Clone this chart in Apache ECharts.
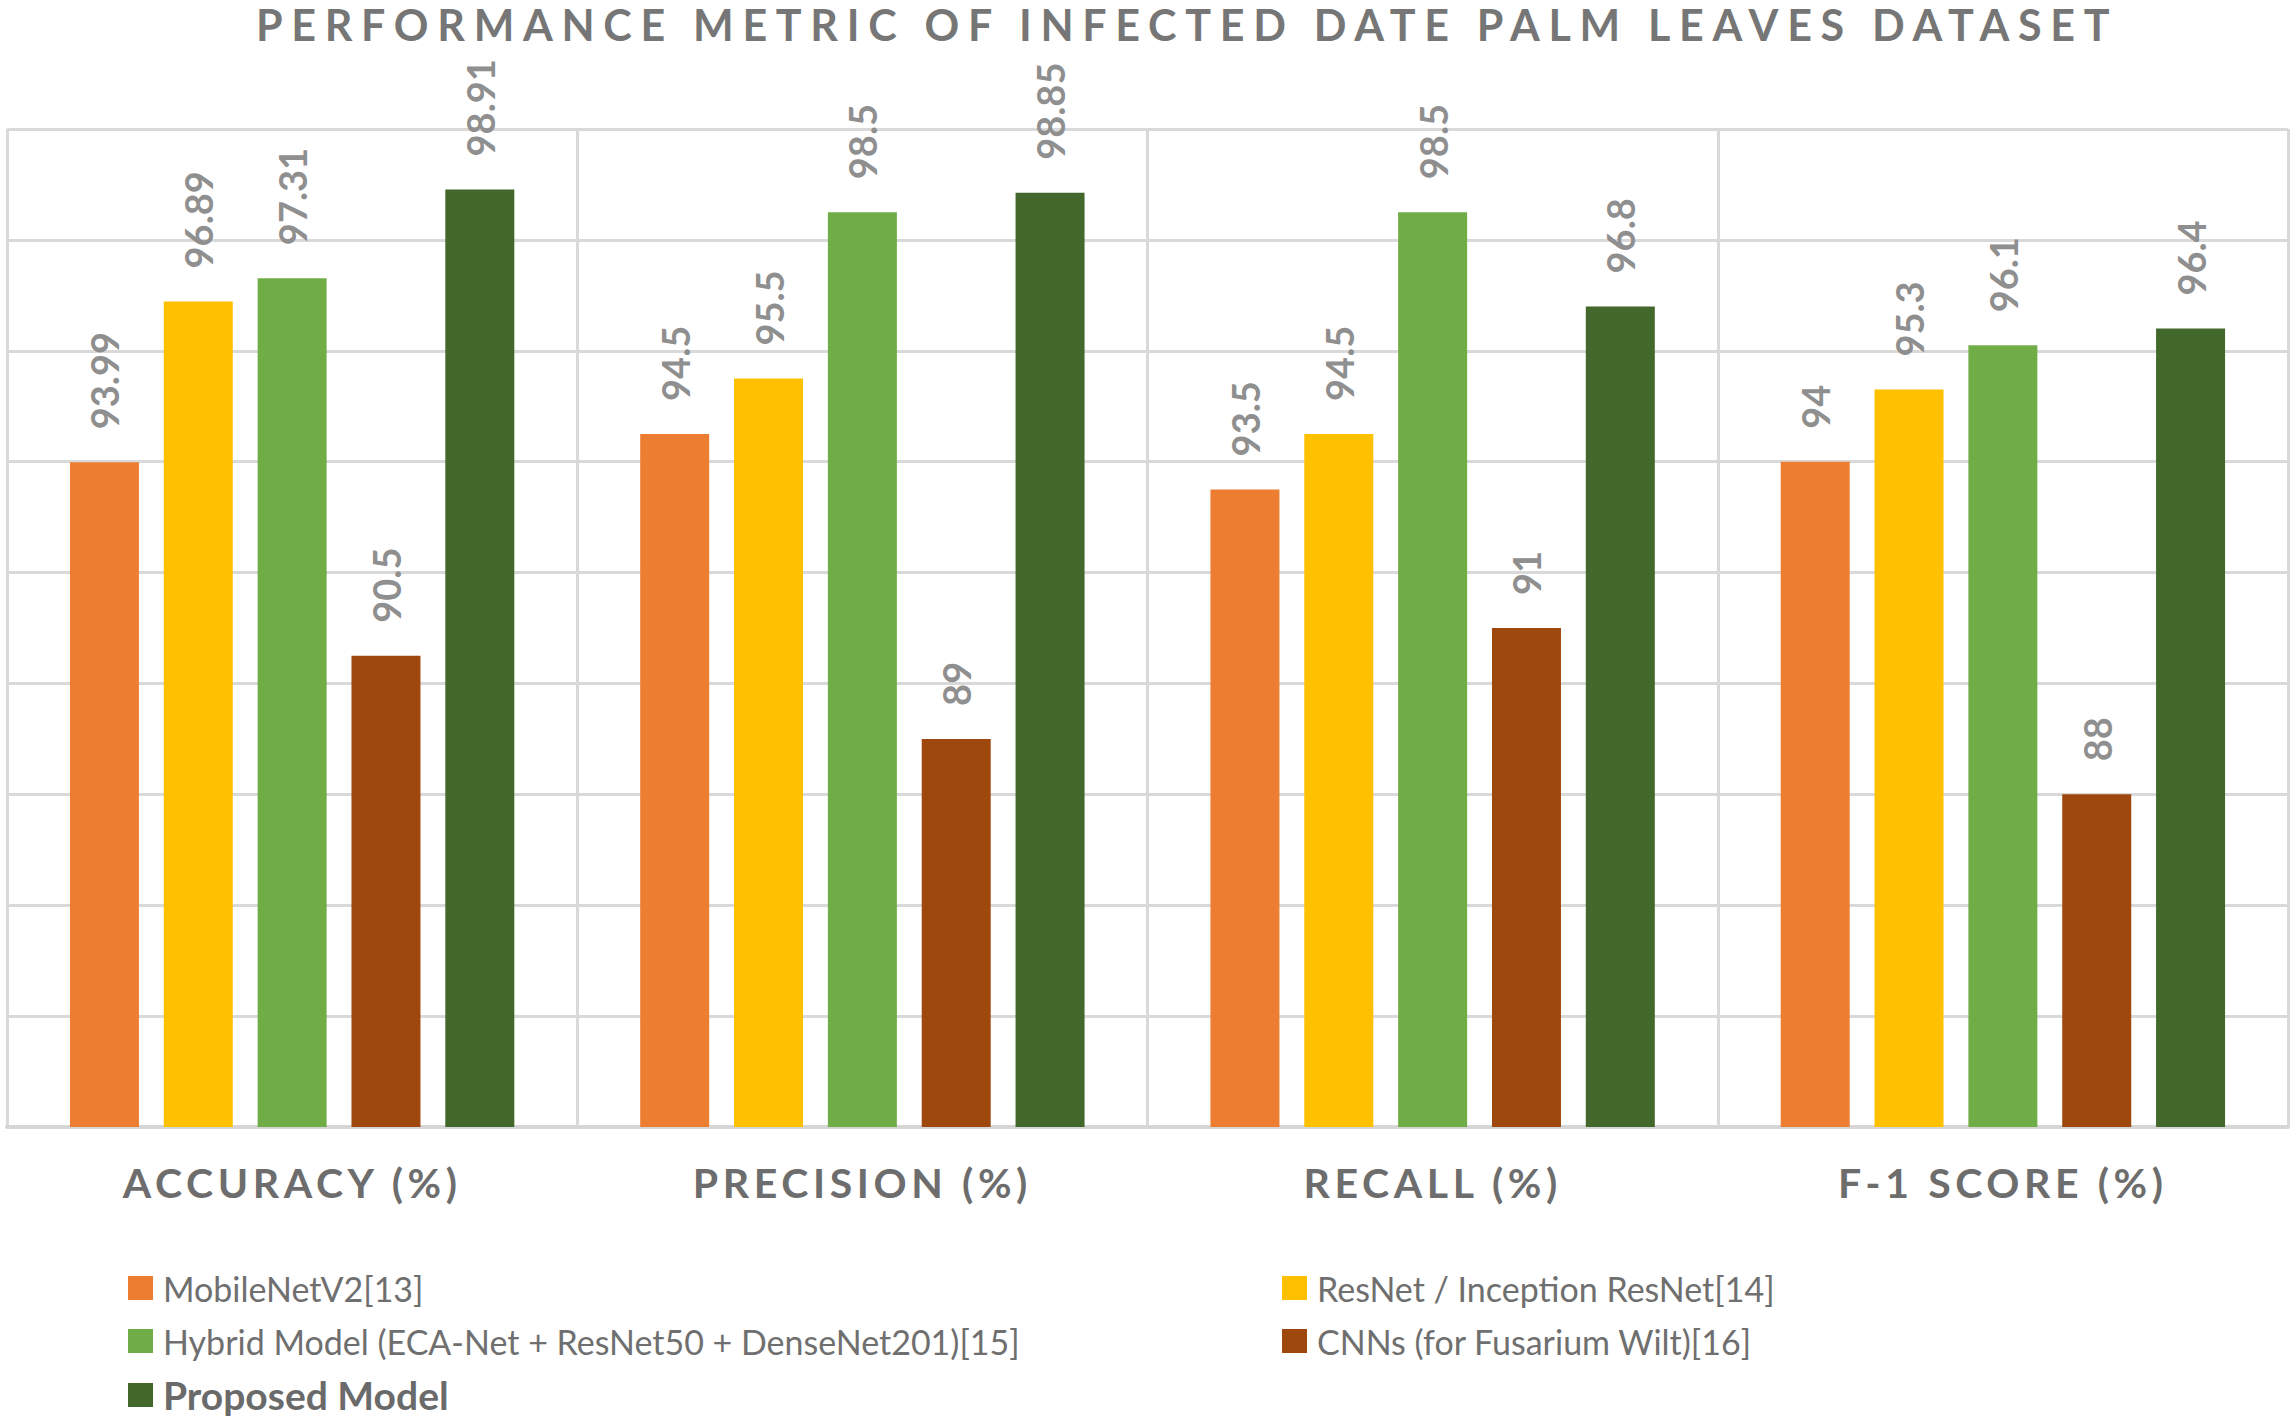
<!DOCTYPE html>
<html>
<head>
<meta charset="utf-8">
<script src="https://cdn.jsdelivr.net/npm/echarts@6/dist/echarts.min.js"></script>
<style>
  html, body { margin: 0; padding: 0; background: #fff; }
  #chart { width: 2296px; height: 1421px; }
  text[style*="43px"] { letter-spacing: 8.7px; }
  text[style*="41px"] { letter-spacing: 4.6px; }
</style>
</head>
<body>
<div id="chart"></div>
<script>
const titleText = 'PERFORMANCE METRIC OF INFECTED DATE PALM LEAVES DATASET';
const categories = ['ACCURACY (%)', 'PRECISION (%)', 'RECALL (%)', 'F-1 SCORE (%)'];
const seriesNames = [
  'MobileNetV2[13]',
  'ResNet / Inception ResNet[14]',
  'Hybrid Model (ECA-Net + ResNet50 + DenseNet201)[15]',
  'CNNs (for Fusarium Wilt)[16]',
  'Proposed Model'
];
const mobileNetV2 = [93.99, 94.5, 93.5, 94];
const resNetInception = [96.89, 95.5, 94.5, 95.3];
const hybridModel = [97.31, 98.5, 98.5, 96.1];
const cnnsFusarium = [90.5, 89, 91, 88];
const proposedModel = [98.91, 98.85, 96.8, 96.4];
const seriesValues = [mobileNetV2, resNetInception, hybridModel, cnnsFusarium, proposedModel];
const colors = ['#ED7D31', '#FFC000', '#70AD47', '#9E480E', '#43682B'];

const chart = echarts.init(document.getElementById('chart'), null, { renderer: 'svg' });

const FONT = 'Lato, "Open Sans", "Liberation Sans", sans-serif';

const legendBase = {
  orient: 'vertical',
  icon: 'rect',
  padding: 0,
  itemWidth: 25,
  itemHeight: 24,
  itemGap: 13,
  textStyle: {
    fontFamily: FONT,
    fontSize: 34,
    color: '#6f6f6f',
    lineHeight: 40,
    padding: [0, 0, 0, 5]
  }
};

const option = {
  backgroundColor: '#ffffff',
  color: colors,
  animation: false,
  title: {
    text: titleText,
    left: 256,
    top: 0,
    padding: [3, 0, 0, 0],
    textStyle: {
      fontFamily: FONT,
      fontSize: 43,
      fontWeight: 'bold',
      color: '#767676'
    }
  },
  legend: [
    Object.assign({}, legendBase, {
      left: 128, top: 1268,
      data: [seriesNames[0], seriesNames[2]]
    }),
    Object.assign({}, legendBase, {
      left: 1282, top: 1268,
      data: [seriesNames[1], seriesNames[3]]
    }),
    Object.assign({}, legendBase, {
      left: 128, top: 1375,
      data: [seriesNames[4]],
      textStyle: Object.assign({}, legendBase.textStyle, {
        fontSize: 39, fontWeight: 'bold', color: '#6a6a6a'
      })
    })
  ],
  grid: { left: 7, right: 8, top: 129, bottom: 294, containLabel: false },
  xAxis: {
    type: 'category',
    data: categories,
    boundaryGap: true,
    axisLine: { show: true, lineStyle: { color: '#d6d6d6', width: 4 } },
    axisTick: { show: false },
    splitLine: { show: true, lineStyle: { color: '#d9d9d9', width: 3 } },
    axisLabel: {
      margin: 35,
      fontFamily: FONT,
      fontSize: 41,
      fontWeight: 'bold',
      color: '#6d6d6d'
    }
  },
  yAxis: {
    type: 'value',
    min: 82,
    max: 100,
    interval: 2,
    axisLine: { show: false },
    axisTick: { show: false },
    axisLabel: { show: false },
    splitLine: { show: true, lineStyle: { color: '#d9d9d9', width: 3 } }
  },
  series: seriesNames.map((name, i) => ({
    name: name,
    type: 'bar',
    data: seriesValues[i],
    barWidth: 69,
    barGap: '36%',
    itemStyle: { color: colors[i] },
    label: {
      show: true,
      position: 'top',
      distance: 33,
      rotate: 90,
      align: 'left',
      verticalAlign: 'middle',
      fontFamily: FONT,
      fontSize: 38,
      fontWeight: 'bold',
      color: '#8f8f8f'
    }
  }))
};

chart.setOption(option);
</script>
</body>
</html>
